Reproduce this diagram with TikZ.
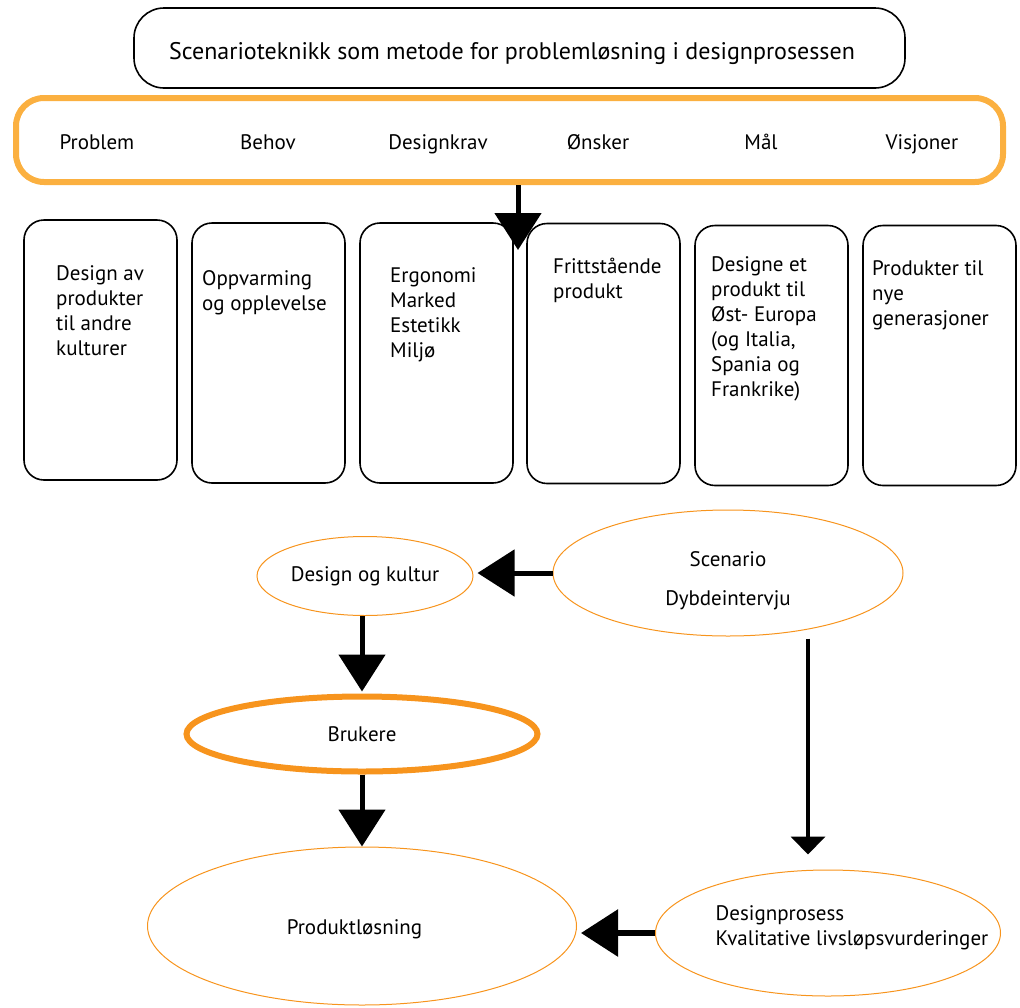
\documentclass[tikz,border=0pt]{standalone}
\usepackage{fontspec}
\setmainfont{PT Sans}
\usetikzlibrary{arrows.meta,shapes.geometric}

\definecolor{bandorange}{HTML}{FBB040}
\definecolor{lineorange}{HTML}{F7941D}

\begin{document}
\begin{tikzpicture}[x=1pt, y=-1pt,
  font=\fontsize{21}{25}\selectfont,
  card/.style={draw, line width=1.6pt, rounded corners=20pt,
    minimum width=153pt, minimum height=260pt},
  cardtext/.style={anchor=north west, align=left, inner sep=0pt},
  oval/.style={ellipse, draw=lineorange, line width=1pt, inner sep=0pt},
  bigarrow/.style={line width=5pt, -{Triangle[length=37pt, width=46pt]}},
  thinarrow/.style={line width=4pt, -{Triangle[length=18pt, width=34pt]}}]
  \useasboundingbox (0,0) rectangle (1020,1007);

  % heading and the orange band
  \node[draw, line width=1.6pt, rounded corners=30pt, minimum width=771pt,
    minimum height=80pt] (title) at (519.5,48) {};
  \node[font=\fontsize{24}{28}\selectfont, inner sep=0pt] (titletext) at (512,53)
    {Scenarioteknikk som metode for problemløsning i designprosessen};
  \node[draw=bandorange, line width=6pt, rounded corners=28pt,
    minimum width=987pt, minimum height=84pt] (band) at (509.5,140) {};
  \foreach \x/\t [count=\i] in {97/Problem, 268/Behov, 438/Designkrav,
      598/Ønsker, 761/Mål, 922/Visjoner}
    \node[anchor=base, inner sep=0pt] (head\i) at (\x,149) {\t};

  \coordinate (bandtip) at (518,250);
  \draw[bigarrow] (band.south -| bandtip) -- (bandtip);

  % the six cards
  \node[card] (card1) at (100.5,350) {};
  \node[card] (card2) at (268.5,353) {};
  \node[card] (card3) at (436.5,353) {};
  \node[card] (card4) at (603.5,353.5) {};
  \node[card] (card5) at (771.5,355.5) {};
  \node[card] (card6) at (939.5,355.5) {};

  \node[cardtext] (text1) at (56,265) {Design av\\produkter\\til andre\\kulturer};
  \node[cardtext] (text2) at (202,270) {Oppvarming\\og opplevelse};
  \node[cardtext] (text3) at (390,267) {Ergonomi\\Marked\\Estetikk\\Miljø};
  \node[cardtext] (text4) at (553,258) {Frittstående\\produkt};
  \node[cardtext] (text5) at (711,256) {Designe et\\produkt til\\Øst- Europa\\(og Italia,\\Spania og\\Frankrike)};
  \node[cardtext] (text6) at (872,260) {Produkter til\\nye\\generasjoner};

  % the process below
  \node[oval, minimum width=216pt, minimum height=79pt] (kultur) at (365,576) {Design og kultur};
  \node[oval, minimum width=350pt, minimum height=126pt] (scen) at (728,573) {};
  \node[align=center, inner sep=0pt, font=\fontsize{21}{39}\selectfont]
    (scentext) at (728,581) {Scenario\\Dybdeintervju};
  \node[oval, line width=6pt, minimum width=351pt, minimum height=75pt] (bruk) at (362,734) {Brukere};
  \node[oval, minimum width=429pt, minimum height=158pt] (prod) at (362,926) {};
  \node[inner sep=0pt] (prodtext) at (354.5,929) {Produktløsning};
  \node[oval, minimum width=345pt, minimum height=126pt] (dp) at (828,933) {};
  \node[align=left, inner sep=0pt] (dptext) at (852,928) {Designprosess\\Kvalitative livsløpsvurderinger};

  \draw[bigarrow, shorten >=4pt] (scen.west) -- (scen.west -| kultur.east);
  \draw[bigarrow, shorten >=2pt] (kultur.south -| bruk.north) -- (bruk.north);
  \draw[bigarrow] (bruk.south) -- (prod.north);
  \draw[thinarrow, shorten <=2pt, shorten >=15pt] ([xshift=80pt]scen.south) -- ([xshift=-20pt]dp.north);
  \draw[bigarrow, line width=6pt, shorten >=4pt] (dp.west) -- (dp.west -| prod.east);
\end{tikzpicture}
\end{document}
